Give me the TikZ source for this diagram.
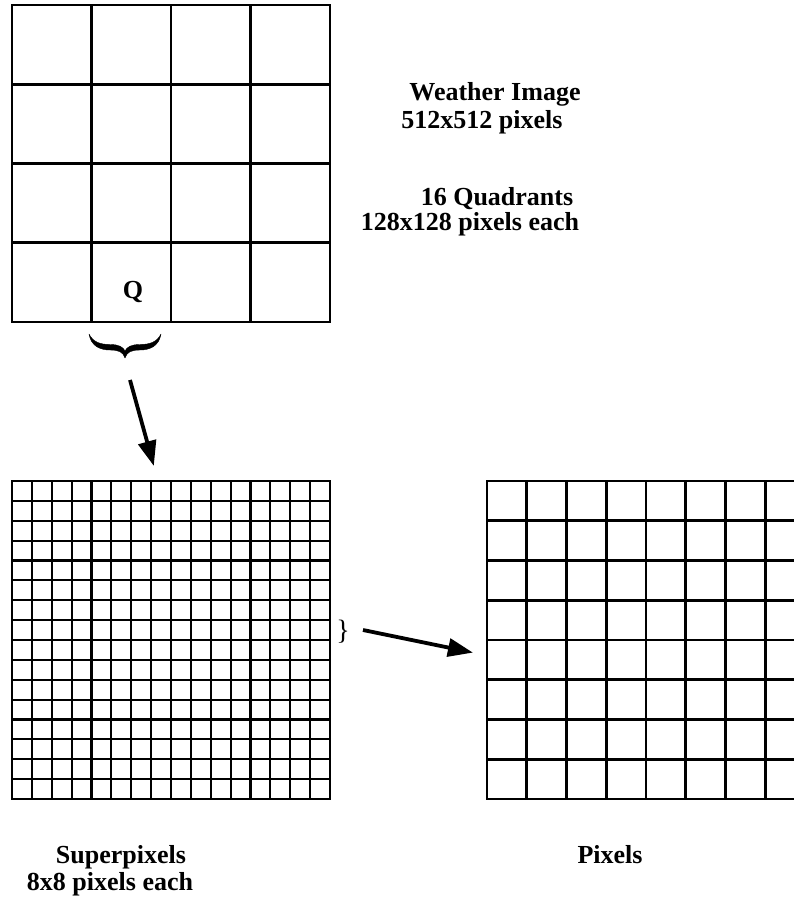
\documentclass[tikz,border=0pt]{standalone}
\usepackage{fontspec}
\setmainfont{Liberation Serif}
\usetikzlibrary{arrows.meta}
\begin{document}
\begin{tikzpicture}[x=1pt,y=-1pt,
  gridline/.style={line width=2.6pt,line cap=rect},
  finegrid/.style={line width=2.2pt,line cap=rect},
  lbl/.style={font=\fontsize{26}{30}\selectfont\bfseries,inner sep=0pt,anchor=base},
  bracefill/.style={fill=black,draw=black,line width=0.4pt,line join=round},
  bigarrow/.style={line width=3.8pt,-{Triangle[length=25pt,width=18pt]},shorten >=-3pt}]
\useasboundingbox (0,0) rectangle (794,907);
% top grid 4x4
\foreach \i in {0,...,4}{
  \draw[gridline] ({12+\i*79.5},5) -- ({12+\i*79.5},322);
  \draw[gridline] (12,{5+\i*79.25}) -- (330,{5+\i*79.25});
}
\node[lbl] (q) at (133,298) {Q};
% brace under the quadrant Q
\path[bracefill] (89,334)
  .. controls (91,346) and (100,350) .. (110,350)
  .. controls (119,350) and (123,352) .. (125,358)
  .. controls (127,352) and (131,350) .. (140,350)
  .. controls (150,350) and (159,346) .. (161,334)
  .. controls (157,342) and (150,344.5) .. (140,344.5)
  .. controls (131,344.5) and (127,347) .. (125,351)
  .. controls (123,347) and (119,344.5) .. (110,344.5)
  .. controls (100,344.5) and (93,342) .. (89,334) -- cycle;
\coordinate (bracetip) at (125,358);
% lower-left grid 16x16
\foreach \i in {0,...,16}{
  \draw[finegrid] ({12+\i*19.875},481) -- ({12+\i*19.875},799);
  \draw[finegrid] (12,{481+\i*19.875}) -- (330,{481+\i*19.875});
}
% right grid 8x8 clipped
\begin{scope}
\clip (470,470) rectangle (794,810);
\foreach \i in {0,...,8}{
  \draw[gridline] ({487+\i*39.75},481) -- ({487+\i*39.75},799);
  \draw[gridline] (487,{481+\i*39.75}) -- (830,{481+\i*39.75});
}
\end{scope}
% arrows
\coordinate (a1s) at (130,380);
\coordinate (a1e) at (153,463);
\draw[bigarrow] (a1s) -- (a1e);
\node[font=\fontsize{28}{30}\selectfont,inner sep=0pt] (sb) at (343,632) {\}};
\coordinate (a2s) at (363,630);
\coordinate (a2e) at (470,652);
\draw[bigarrow] (a2s) -- (a2e);
% labels
\node[lbl] (t1) at (495,100) {Weather Image};
\node[lbl] (t2) at (482,128) {512x512 pixels};
\node[lbl] (t3) at (497,205) {16 Quadrants};
\node[lbl] (t4) at (470,230) {128x128 pixels each};
\node[lbl] (t5) at (121,863) {Superpixels};
\node[lbl] (t6) at (110,890) {8x8 pixels each};
\node[lbl] (t7) at (610,863) {Pixels};
\end{tikzpicture}
\end{document}
